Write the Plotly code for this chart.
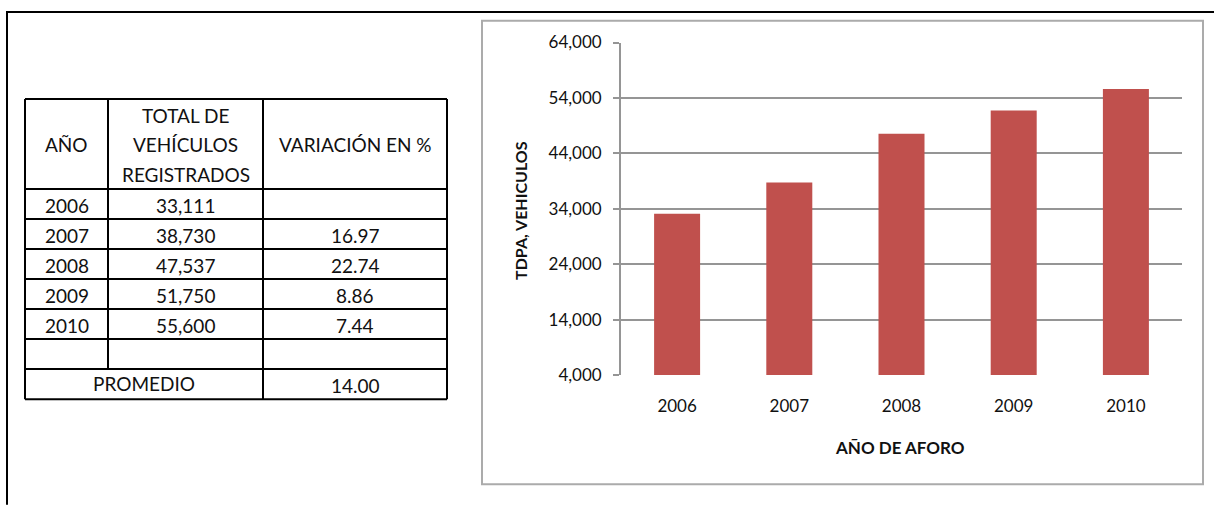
import plotly.graph_objects as go

# ---------------- data ----------------
years = ["2006", "2007", "2008", "2009", "2010"]
vehicles = [33111, 38730, 47537, 51750, 55600]
vehicles_text = ["33,111", "38,730", "47,537", "51,750", "55,600"]
variation_text = ["", "16.97", "22.74", "8.86", "7.44"]
average_label = "PROMEDIO"
average_text = "14.00"
header_col0 = ["AÑO"]
header_col1 = ["TOTAL DE", "VEHÍCULOS", "REGISTRADOS"]
header_col2 = ["VARIACIÓN EN %"]
y_ticks = [4000, 14000, 24000, 34000, 44000, 54000, 64000]
y_title = "TDPA, VEHICULOS"
x_title = "AÑO DE AFORO"

W, H = 1214, 510
FONT = "Lato"
BAR_COLOR = "#C0504D"
GRID = "#959595"
# vertical calibration of the rendered page (observed offset / scale)
V_OFF, V_SCALE = 10.2, 0.958


def px(x):
    return x / W


def py_raw(y):
    return 1 - y / H


def py(y):
    return py_raw((y - V_OFF) / V_SCALE)


fig = go.Figure()
fig.add_trace(go.Bar(x=years, y=vehicles, marker=dict(color=BAR_COLOR, line=dict(width=0)),
                     hoverinfo="x+y"))

shapes = []
ann = []

# outer frame (top and left)
shapes.append(dict(type="line", xref="paper", yref="paper", x0=px(6), x1=px(W + 5), y0=py_raw(1), y1=py_raw(1),
                   line=dict(color="#000", width=2)))
shapes.append(dict(type="line", xref="paper", yref="paper", x0=px(7), x1=px(7), y0=py_raw(0), y1=py_raw(H + 5),
                   line=dict(color="#000", width=2)))

# chart box
shapes.append(dict(type="rect", xref="paper", yref="paper", x0=px(482), x1=px(1203), y0=py(483), y1=py(20),
                   line=dict(color="#ababab", width=2), layer="below"))

# ---------------- table ----------------
col_x = [25, 108, 263, 447]
row_y = [98, 188]
for i in range(len(years) + 2):
    row_y.append(row_y[-1] + 30)
n_data = len(years)
tline = dict(color="#000", width=2)
# horizontal lines
for yv in row_y:
    shapes.append(dict(type="line", xref="paper", yref="paper", x0=px(col_x[0]), x1=px(col_x[-1]),
                       y0=py(yv), y1=py(yv), line=tline))
# outer verticals
for xv in (col_x[0], col_x[-1], col_x[2]):
    shapes.append(dict(type="line", xref="paper", yref="paper", x0=px(xv), x1=px(xv),
                       y0=py(row_y[0]), y1=py(row_y[-1]), line=tline))
# first inner vertical stops above PROMEDIO row
shapes.append(dict(type="line", xref="paper", yref="paper", x0=px(col_x[1]), x1=px(col_x[1]),
                   y0=py(row_y[0]), y1=py(row_y[-2]), line=tline))

tfont = dict(family=FONT, size=19, color="#111")
cc = [(col_x[i] + col_x[i + 1]) / 2 for i in range(3)]


def text(x, y, s, font=tfont, **kw):
    ann.append(dict(xref="paper", yref="paper", x=px(x), y=py(y), text=s, showarrow=False,
                    xanchor="center", yanchor="middle", font=font, **kw))


hy = (row_y[0] + row_y[1]) / 2
text(cc[0], hy + 1, header_col0[0])
for k, s in enumerate(header_col1):
    text(cc[1], hy + 1 + (k - 1) * 29.5, s)
text(cc[2], hy + 1, header_col2[0])
for i in range(n_data):
    yc = (row_y[i + 1] + row_y[i + 2]) / 2 + 1.5
    text(cc[0], yc, years[i])
    text(cc[1], yc, vehicles_text[i])
    if variation_text[i]:
        text(cc[2], yc, variation_text[i])
yc = (row_y[-2] + row_y[-1]) / 2
text((col_x[0] + col_x[2]) / 2, yc - 0.5, average_label)
text(cc[2], yc + 1.5, average_text)

# axis titles
text(521, 210, "<b>%s</b>" % y_title, font=dict(family=FONT, size=16, color="#111"), textangle=-90)
text(900, 446, "<b>%s</b>" % x_title, font=dict(family=FONT, size=17, color="#111"))

fig.update_layout(
    width=W, height=H, margin=dict(l=0, r=0, t=0, b=0),
    paper_bgcolor="white", plot_bgcolor="white",
    showlegend=False, bargap=0.59,
    shapes=shapes, annotations=ann,
    font=dict(family=FONT, size=17, color="#111"),
    xaxis=dict(domain=[px(621), px(1182)], showgrid=False, showline=False, ticks="",
               tickfont=dict(family=FONT, size=17, color="#111"), ticklabelstandoff=19,
               fixedrange=True),
    yaxis=dict(domain=[py(374), py(41.7)], range=[4000, 64000], tickvals=y_ticks,
               tickformat=",", showgrid=True, gridcolor=GRID, gridwidth=1.8,
               showline=True, linecolor=GRID, linewidth=1.8, ticks="outside", ticklen=6,
               tickcolor=GRID, tickwidth=1.8, zeroline=False,
               tickfont=dict(family=FONT, size=17, color="#111"), ticklabelstandoff=8,
               fixedrange=True),
)

post = (
    "document.documentElement.style.margin='0';"
    "document.body.style.margin='0';"
    "document.body.style.overflow='hidden';"
)
fig.write_html("out.html", config={"displayModeBar": False}, post_script=post)
